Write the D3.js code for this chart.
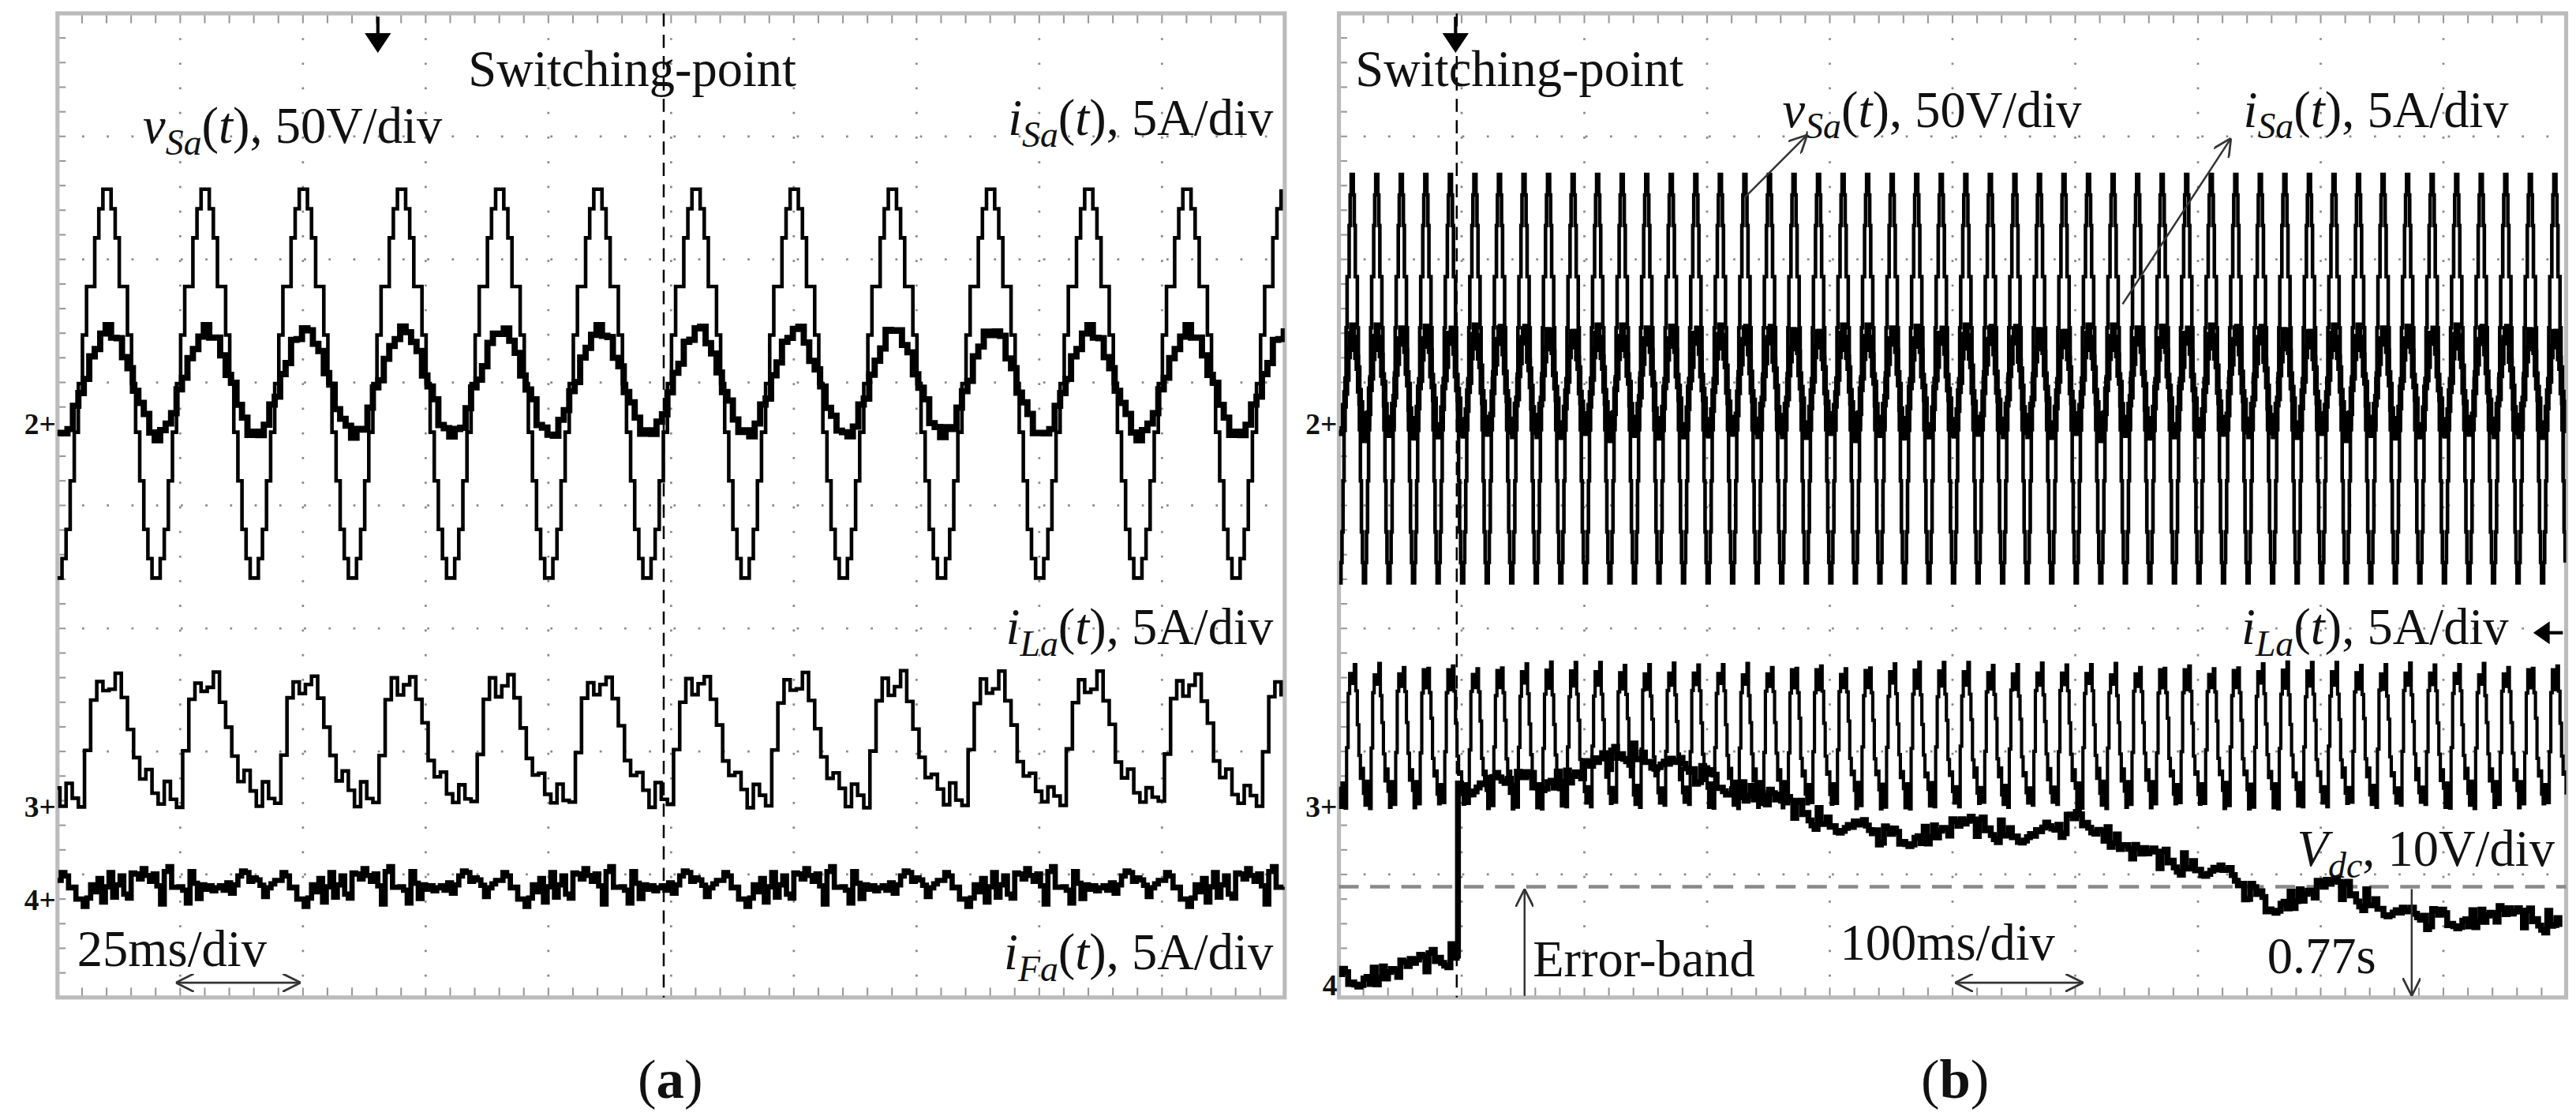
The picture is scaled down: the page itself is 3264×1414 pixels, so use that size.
<!DOCTYPE html>
<html>
<head>
<meta charset="utf-8">
<script src="https://cdn.jsdelivr.net/npm/d3@7"></script>
<style>
body { margin: 0; background: #fff; }
text { font-family: "Liberation Serif", "DejaVu Serif", serif; fill: #111; }
</style>
</head>
<body>
<svg id="chart" width="3264" height="1414" viewBox="0 0 1568 679"></svg>
<script>
// ---- data (all in scope divisions: x 0..10, y -4..4) ----
// one period of each waveform, normalised -1..1
const vSaCycle = [0, .25, .5, .5, .75, .9, 1, 1, .9, .75, .5, .5, .25, 0, -.25, -.5, -.75, -.9, -1, -1, -.9, -.75, -.5, -.25];
const iSaCycle = [-.2, .1, .4, .7, .9, 1, .95, .8, .5, .2, -.1, -.4, -.7, -.9, -1, -.95, -.8, -.5];
const iLaCycle = [-1, -.2, .6, .9, .7, .8, 1, .6, .2, -.3, -.6, -.5, -.8, -1, -.7, -.9];
const noise = [.3, -.6, .8, -.2, .5, -.9, .1, .7, -.4, .6, -.8, .2, .9, -.5, .4, -.1, -.7, .5, .0, -.3,
               .8, -.6, .2, .7, -.9, .3, -.2, .6, -.5, .1, .9, -.4, -.8, .4, .2, -.7, .6, -.1, .5, -.6,
               -.3, .7, -.9, .4, .1, -.5, .8, -.2, .3, -.8, .6, -.4, .0, .7, -.6, .5, -.3, .9, -.7, .2];
// panel (a): 25 ms/div, 20 ms period
const panelA = { period: 0.8, phase: 0.17,
  vSa: { mid: 0.99, amp: 1.58 }, iSa: { mid: 1.0, amp: 0.43 },
  iLa: { mid: -1.9, amp: 0.53 }, iFa: { mid: -3.1, amp: 0.2 } };
// panel (b): 100 ms/div, 20 ms period
const panelB = { period: 0.2, phase: 0.05,
  vSa: { mid: 1.03, amp: 1.66 }, iSa: { mid: 1.0, amp: 0.43 },
  iLa: { mid: -1.87, amp: 0.57 }, switchX: 0.96, errorBand: -3.1 };
// DC link voltage key readings (div, div)
const vdcX = [0, 0.5, 0.96, 0.97, 1.4, 1.9, 2.34, 2.8, 3.28, 3.95, 4.49, 5.14, 5.68, 6.08, 6.48, 7.15, 7.55, 8.09, 8.76, 9.4, 9.97];
const vdcY = [-3.84, -3.78, -3.64, -2.3, -2.25, -2.2, -2.01, -2.15, -2.3, -2.57, -2.7, -2.61, -2.7, -2.53, -2.84, -2.97, -3.24, -3.1, -3.37, -3.33, -3.4];
const markersA = [["2+", 0.66], ["3+", -2.45], ["4+", -3.21]];
const markersB = [["2+", 0.66], ["3+", -2.45], ["4", -3.9]];

const svg = d3.select("#chart");
const FS = 31, SUB = 22;

function panel(x0, x1) {
  const g = svg.append("g");
  const x = d3.scaleLinear().domain([0, 10]).range([x0, x1]);
  const y = d3.scaleLinear().domain([-4, 4]).range([607, 8]);
  g.append("clipPath").attr("id", "c" + x0).append("rect")
    .attr("x", x0).attr("y", 8).attr("width", x1 - x0).attr("height", 599);
  for (let i = 1; i < 10; i++)
    g.append("line").attr("x1", x(i)).attr("x2", x(i)).attr("y1", 8).attr("y2", 607)
      .attr("stroke", "#888").attr("stroke-width", 1.3).attr("stroke-dasharray", "1.3 13.7");
  for (let j = -3; j < 4; j++)
    g.append("line").attr("y1", y(j)).attr("y2", y(j)).attr("x1", x0).attr("x2", x1)
      .attr("stroke", "#888").attr("stroke-width", 1.3).attr("stroke-dasharray", "1.3 13.7");
  const tx = d3.range(0, 50.01).map(k => k / 5);
  g.selectAll(null).data(tx).join("line")
    .attr("x1", d => x(d)).attr("x2", d => x(d)).attr("y1", 8).attr("y2", 14)
    .attr("stroke", "#999").attr("stroke-width", 1);
  g.selectAll(null).data(tx).join("line")
    .attr("x1", d => x(d)).attr("x2", d => x(d)).attr("y1", 601).attr("y2", 607)
    .attr("stroke", "#999").attr("stroke-width", 1);
  const ty = d3.range(-20, 20.01).map(k => k / 5);
  g.selectAll(null).data(ty).join("line")
    .attr("y1", d => y(d)).attr("y2", d => y(d)).attr("x1", x0).attr("x2", x0 + 5)
    .attr("stroke", "#999").attr("stroke-width", 1);
  g.append("rect").attr("x", x0).attr("y", 8).attr("width", x1 - x0).attr("height", 599)
    .attr("fill", "none").attr("stroke", "#bbb").attr("stroke-width", 2.5);
  return { g, x, y, clip: "url(#c" + x0 + ")" };
}

function cyclePoints(cycle, p, spec, from, to, noiseAmp) {
  const pts = [];
  const dt = p.period / cycle.length;
  let k = 0;
  for (let t = p.phase - p.period; t < 10.2; t += dt, k++) {
    if (t < from - dt || t > to) continue;
    const n = noiseAmp ? noise[k % noise.length] * noiseAmp : 0;
    pts.push([t, spec.mid + spec.amp * cycle[k % cycle.length] + n]);
  }
  return pts;
}

function trace(P, pts, w, curve) {
  P.g.append("path").datum(pts).attr("clip-path", P.clip)
    .attr("fill", "none").attr("stroke", "#000").attr("stroke-width", w)
    .attr("d", d3.line().x(d => P.x(d[0])).y(d => P.y(d[1])).curve(curve || d3.curveStepAfter));
}

function label(P, px, py, main, sub, rest, anchor) {
  const t = P.g.append("text").attr("x", px).attr("y", py).attr("font-size", FS)
    .attr("text-anchor", anchor || "start");
  t.append("tspan").attr("font-style", "italic").text(main);
  if (sub) t.append("tspan").attr("font-style", "italic").attr("font-size", SUB).attr("dy", 7).text(sub);
  if (rest.startsWith("(t)")) {
    t.append("tspan").attr("dy", sub ? -7 : 0).text("(");
    t.append("tspan").attr("font-style", "italic").text("t");
    t.append("tspan").text(rest.slice(2));
  } else {
    t.append("tspan").attr("dy", sub ? -7 : 0).text(rest);
  }
}

function arrowDown(g, cx, top) {
  g.append("line").attr("x1", cx).attr("x2", cx).attr("y1", top).attr("y2", top + 14).attr("stroke", "#000").attr("stroke-width", 2);
  g.append("path").attr("d", `M${cx - 8},${top + 10}L${cx + 8},${top + 10}L${cx},${top + 22}Z`).attr("fill", "#000");
}

function thinArrow(g, x1, y1, x2, y2) {
  g.append("line").attr("x1", x1).attr("y1", y1).attr("x2", x2).attr("y2", y2)
    .attr("stroke", "#333").attr("stroke-width", 1.2).attr("marker-end", "url(#ah)");
}

function dblArrow(g, x1, x2, yy) {
  g.append("line").attr("x1", x1).attr("x2", x2).attr("y1", yy).attr("y2", yy)
    .attr("stroke", "#333").attr("stroke-width", 1.4)
    .attr("marker-end", "url(#ah)").attr("marker-start", "url(#ahs)");
}

const defs = svg.append("defs");
defs.append("marker").attr("id", "ah").attr("viewBox", "0 0 10 10").attr("refX", 10).attr("refY", 5)
  .attr("markerWidth", 11).attr("markerHeight", 11).attr("markerUnits", "userSpaceOnUse").attr("orient", "auto")
  .append("path").attr("d", "M0,0L10,5L0,10").attr("fill", "none").attr("stroke", "#333").attr("stroke-width", 1.2);
defs.append("marker").attr("id", "ahs").attr("viewBox", "0 0 10 10").attr("refX", 0).attr("refY", 5)
  .attr("markerWidth", 11).attr("markerHeight", 11).attr("markerUnits", "userSpaceOnUse").attr("orient", "auto")
  .append("path").attr("d", "M10,0L0,5L10,10").attr("fill", "none").attr("stroke", "#333").attr("stroke-width", 1.2);

// ---------------- panel (a) ----------------
const A = panel(35, 782);
A.g.append("line").attr("x1", 404).attr("x2", 404).attr("y1", 8).attr("y2", 607)
  .attr("stroke", "#000").attr("stroke-width", 1.2).attr("stroke-dasharray", "8 5");
trace(A, cyclePoints(vSaCycle, panelA, panelA.vSa, 0, 10), 2.2);
trace(A, cyclePoints(iSaCycle, panelA, panelA.iSa, 0, 10, 0.05), 3.8);
trace(A, cyclePoints(iLaCycle, panelA, panelA.iLa, 0, 10, 0.03), 2.2);
trace(A, d3.range(0, 10.01, 0.03).map((t, k) => [t, panelA.iFa.mid +
  panelA.iFa.amp * (0.6 * noise[(k * 7) % noise.length] + 0.4 * noise[(k * 3 + 11) % noise.length])]), 3.2);
markersA.forEach(([m, v]) => A.g.append("text").attr("x", 34).attr("y", A.y(v) + 6)
  .attr("text-anchor", "end").attr("font-size", 18).attr("font-weight", "bold").text(m));
arrowDown(A.g, 230, 10);
A.g.append("text").attr("x", 285).attr("y", 52).attr("font-size", FS).text("Switching-point");
label(A, 87, 87, "v", "Sa", "(t), 50V/div");
label(A, 775, 82, "i", "Sa", "(t), 5A/div", "end");
label(A, 775, 392, "i", "La", "(t), 5A/div", "end");
label(A, 775, 590, "i", "Fa", "(t), 5A/div", "end");
A.g.append("text").attr("x", 47).attr("y", 588).attr("font-size", FS).text("25ms/div");
dblArrow(A.g, 107, 183, 598);
svg.append("text").attr("x", 408).attr("y", 668).attr("text-anchor", "middle").attr("font-size", 34)
  .html('(<tspan font-weight="bold">a</tspan>)');

// ---------------- panel (b) ----------------
const B = panel(815, 1562);
B.g.append("line").attr("x1", B.x(panelB.switchX)).attr("x2", B.x(panelB.switchX)).attr("y1", 8).attr("y2", 607)
  .attr("stroke", "#000").attr("stroke-width", 1.2).attr("stroke-dasharray", "8 5");
B.g.append("line").attr("x1", 815).attr("x2", 1562).attr("y1", B.y(panelB.errorBand)).attr("y2", B.y(panelB.errorBand))
  .attr("stroke", "#888").attr("stroke-width", 2.2).attr("stroke-dasharray", "12 7");
trace(B, cyclePoints(vSaCycle, panelB, panelB.vSa, 0, 10), 2.2);
trace(B, cyclePoints(iSaCycle, panelB, panelB.iSa, 0, 10, 0.05), 3.5);
trace(B, cyclePoints(iLaCycle, panelB, panelB.iLa, 0, 10, 0.03), 2);
const vdcPts = [];
for (let i = 0; i < vdcX.length - 1; i++) {
  const n = Math.max(1, Math.round((vdcX[i + 1] - vdcX[i]) / 0.025));
  for (let j = 0; j < n; j++) {
    const f = j / n, k = vdcPts.length;
    vdcPts.push([vdcX[i] + f * (vdcX[i + 1] - vdcX[i]),
      vdcY[i] + f * (vdcY[i + 1] - vdcY[i]) + 0.1 * noise[(k * 7) % noise.length]]);
  }
}
trace(B, vdcPts, 3.6);
markersB.forEach(([m, v]) => B.g.append("text").attr("x", 814).attr("y", B.y(v) + 6)
  .attr("text-anchor", "end").attr("font-size", 18).attr("font-weight", "bold").text(m));
arrowDown(B.g, 886, 10);
B.g.append("text").attr("x", 825).attr("y", 52).attr("font-size", FS).text("Switching-point");
label(B, 1085, 77, "v", "Sa", "(t), 50V/div");
label(B, 1527, 77, "i", "Sa", "(t), 5A/div", "end");
thinArrow(B.g, 1062, 120, 1100, 82);
thinArrow(B.g, 1292, 185, 1358, 84);
label(B, 1527, 392, "i", "La", "(t), 5A/div", "end");
B.g.append("line").attr("x1", 1560).attr("x2", 1548).attr("y1", 385).attr("y2", 385).attr("stroke", "#000").attr("stroke-width", 2);
B.g.append("path").attr("d", "M1542,385L1552,378L1552,392Z").attr("fill", "#000");
label(B, 1555, 527, "V", "dc", ", 10V/div", "end");
B.g.append("text").attr("x", 933).attr("y", 594).attr("font-size", FS).text("Error-band");
thinArrow(B.g, 928, 606, 928, 541);
B.g.append("text").attr("x", 1120).attr("y", 584).attr("font-size", FS).text("100ms/div");
dblArrow(B.g, 1190, 1268, 598);
B.g.append("text").attr("x", 1380).attr("y", 592).attr("font-size", FS).text("0.77s");
thinArrow(B.g, 1468, 541, 1468, 606);
svg.append("text").attr("x", 1190).attr("y", 668).attr("text-anchor", "middle").attr("font-size", 34)
  .html('(<tspan font-weight="bold">b</tspan>)');
</script>
</body>
</html>
